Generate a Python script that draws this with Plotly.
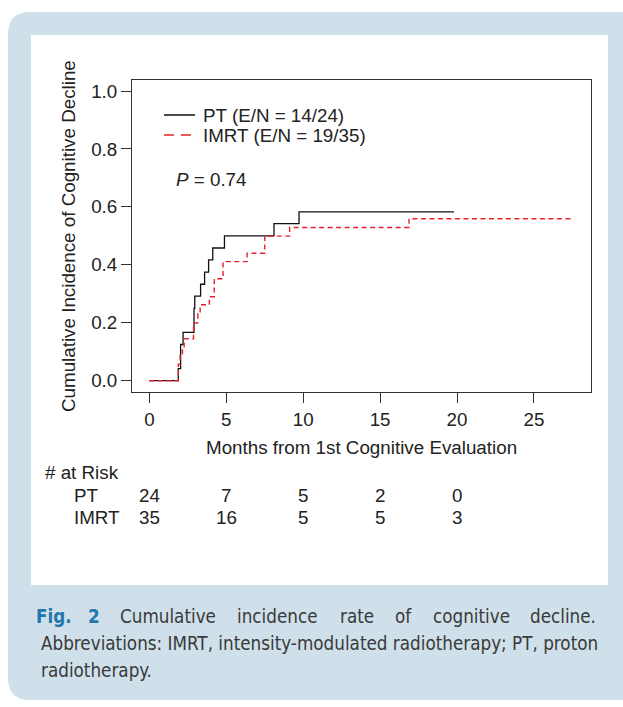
import plotly.graph_objects as go

# ---------------- data ----------------
pt_time = [0, 1.88, 2.03, 2.19, 2.90, 2.95, 3.33, 3.59, 3.85, 4.12, 4.88, 8.10, 9.73, 19.8]
pt_cif = [0, 0.042, 0.125, 0.167, 0.250, 0.292, 0.333, 0.375, 0.417, 0.458, 0.500, 0.542, 0.583, 0.583]

imrt_time = [0, 1.88, 2.00, 2.15, 2.26, 2.87, 3.15, 3.30, 3.90, 4.22, 4.79, 6.35, 7.50, 9.12, 16.88, 27.6]
imrt_cif = [0, 0.057, 0.086, 0.114, 0.145, 0.199, 0.231, 0.262, 0.290, 0.352, 0.411, 0.440, 0.499, 0.529, 0.559, 0.559]

x_ticks = [0, 5, 10, 15, 20, 25]
y_ticks = [0.0, 0.2, 0.4, 0.6, 0.8, 1.0]

risk_times = [0, 5, 10, 15, 20]
pt_risk = [24, 7, 5, 2, 0]
imrt_risk = [35, 16, 5, 5, 3]

legend_labels = ["PT (E/N = 14/24)", "IMRT (E/N = 19/35)"]
p_label = "<i>P</i> = 0.74"

caption_line1 = ["Fig.", "2", "Cumulative", "incidence", "rate", "of", "cognitive", "decline."]
caption_line2 = "Abbreviations: IMRT, intensity-modulated radiotherapy; PT, proton"
caption_line3 = "radiotherapy."

# ---------------- layout geometry ----------------
W, H = 623, 707
# plot-area box in window pixels
BL, BR, BT, BB = 132, 591, 80, 392


def px(X):
    return (X - BL) / (BR - BL)


def py(Y):
    return (BB - Y) / (BB - BT)


def rounded_path(x0, y0, x1, y1, r):
    def P(X, Y):
        return f"{px(X):.5f},{py(Y):.5f}"
    return (f"M {P(x0 + r, y0)} L {P(x1 - r, y0)} Q {P(x1, y0)} {P(x1, y0 + r)} "
            f"L {P(x1, y1 - r)} Q {P(x1, y1)} {P(x1 - r, y1)} "
            f"L {P(x0 + r, y1)} Q {P(x0, y1)} {P(x0, y1 - r)} "
            f"L {P(x0, y0 + r)} Q {P(x0, y0)} {P(x0 + r, y0)} Z")


FONT = "Liberation Sans, Arial, Helvetica, sans-serif"
CAPFONT = "Liberation Sans Narrow, Arial Narrow, DejaVu Sans Condensed, Liberation Sans, sans-serif"
TXT = "#222222"
FS = 18.8
RED = "#e8202a"

fig = go.Figure()
fig.add_trace(go.Scatter(x=pt_time, y=pt_cif, mode="lines", line_shape="hv",
                         line=dict(color="#111111", width=1.3), name=legend_labels[0],
                         showlegend=False))
fig.add_trace(go.Scatter(x=imrt_time, y=imrt_cif, mode="lines", line_shape="hv",
                         line=dict(color=RED, width=1.4, dash="5px,3.5px"), name=legend_labels[1],
                         showlegend=False))

shapes = [
    dict(type="path", xref="paper", yref="paper", path=rounded_path(8, 12, 640, 700, 22),
         fillcolor="#cfe0ea", line=dict(width=0), layer="below"),
    dict(type="rect", xref="paper", yref="paper", x0=px(31), x1=px(608), y0=py(585), y1=py(35),
         fillcolor="white", line=dict(width=0), layer="below"),
    dict(type="line", xref="paper", yref="paper", x0=px(164), x1=px(195), y0=py(115), y1=py(115),
         line=dict(color="#111111", width=1.5)),
    dict(type="line", xref="paper", yref="paper", x0=px(164), x1=px(195), y0=py(135), y1=py(135),
         line=dict(color=RED, width=1.6, dash="10px,7px")),
]

ann = []


def A(text, X, Y, anchor="left", size=FS, color=TXT, family=FONT, **kw):
    ann.append(dict(text=text, xref="paper", yref="paper", x=px(X), y=py(Y), xanchor=anchor,
                    yanchor="middle", showarrow=False, font=dict(family=family, size=size, color=color), **kw))


A("Cumulative Incidence of Cognitive Decline", 68, 236, anchor="center", textangle=-90)
A("Months from 1st Cognitive Evaluation", 361.5, 447, anchor="center")
A(legend_labels[0], 201, 115)
A(legend_labels[1], 201, 135)
A(p_label, 174, 179)
A("# at Risk", 43, 472)
A("PT", 72, 495)
A("IMRT", 72, 517)

for t, a, b in zip(risk_times, pt_risk, imrt_risk):
    for val, Y in ((a, 495), (b, 517)):
        ann.append(dict(text=str(val), xref="x", yref="paper", x=t, y=py(Y), xanchor="center",
                        yanchor="middle", showarrow=False, font=dict(family=FONT, size=FS, color=TXT)))

# caption (justified first line)
BLUE = "#2477ae"
CAPC = "#3a3a3a"
CS = 18.7
centers1 = [54.1, 93.6, 167.9, 277.4, 357.0, 403.5, 471.0, 564.0]
for i, (w, cx) in enumerate(zip(caption_line1, centers1)):
    if i < 2:
        A(f"<b>{w}</b>", cx, 616, anchor="center", size=CS, color=BLUE, family=CAPFONT)
    elif i == len(caption_line1) - 1:
        A(w, 597.5, 616, anchor="right", size=CS, color=CAPC, family=CAPFONT)
    else:
        A(w, cx, 616, anchor="center", size=CS, color=CAPC, family=CAPFONT)
A(caption_line2, 39, 643, size=CS, color=CAPC, family=CAPFONT)
A(caption_line3, 39, 670, size=CS, color=CAPC, family=CAPFONT)

axis_common = dict(showgrid=False, zeroline=False, showline=True, linecolor="#333333", linewidth=1,
                   mirror=True, ticks="outside", ticklen=10, tickcolor="#333333", tickwidth=1,
                   tickfont=dict(family=FONT, size=FS, color=TXT))

fig.update_layout(
    width=W, height=H,
    margin=dict(l=BL, r=W - BR, t=BT, b=H - BB, autoexpand=False),
    paper_bgcolor="white", plot_bgcolor="rgba(0,0,0,0)",
    shapes=shapes, annotations=ann,
    xaxis=dict(range=[-1.13, 28.71], tickvals=x_ticks, **axis_common),
    yaxis=dict(range=[-0.039, 1.038], tickvals=y_ticks, tickformat=".1f", **axis_common),
)

# remove the default page margin so the 623x707 figure fills the window exactly
fig.write_html("out.html",
               config={"displayModeBar": False, "staticPlot": True},
               post_script="document.body.style.margin='0';document.body.style.overflow='hidden';")
